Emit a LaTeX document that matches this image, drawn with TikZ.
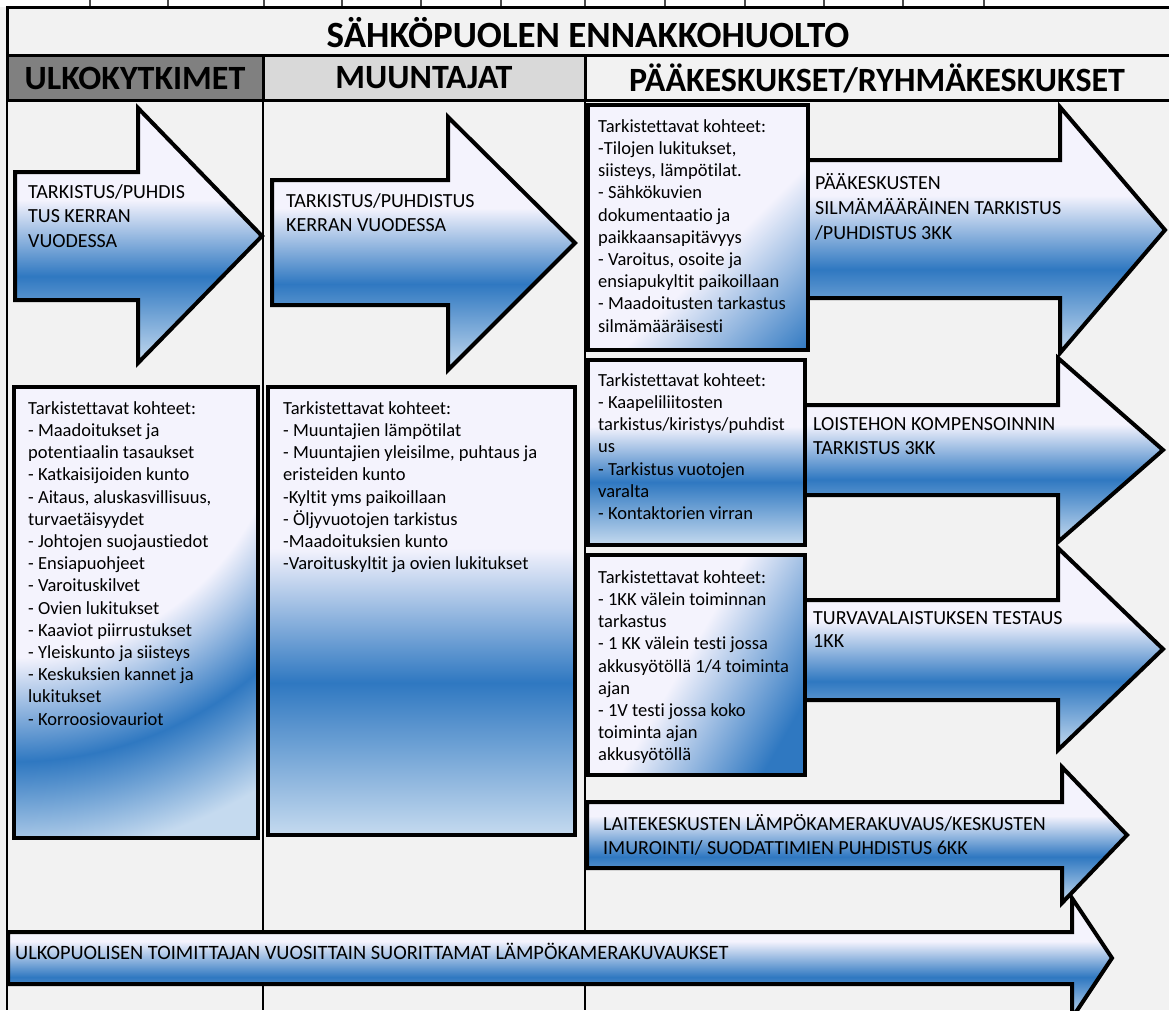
\documentclass[tikz,border=0pt]{standalone}
\usepackage{fontspec}
\setmainfont{Carlito}[Ligatures={NoCommon,NoContextual}]
\definecolor{bg}{HTML}{F2F2F2}
\definecolor{hdark}{HTML}{808080}
\definecolor{hlight}{HTML}{D9D9D9}
\definecolor{gT}{HTML}{F4F3FD}
\definecolor{gM}{HTML}{2F78C1}
\definecolor{gB}{HTML}{C5DAEF}
\pgfdeclareverticalshading{vgrad}{100bp}{color(0bp)=(gB); color(25bp)=(gB); color(42bp)=(gM); color(57bp)=(gT); color(75bp)=(gT); color(100bp)=(gT)}
\pgfdeclareverticalshading{diagA}{100bp}{color(0bp)=(gM); color(25bp)=(gM); color(45bp)=(gT); color(100bp)=(gT)}
\pgfdeclareverticalshading{diagB}{100bp}{color(0bp)=(gM); color(32bp)=(gM); color(52bp)=(gT); color(100bp)=(gT)}
\pgfdeclareradialshading{cradial}{\pgfpoint{0bp}{0bp}}{color(0bp)=(gT); color(13bp)=(gT); color(18bp)=(gM); color(22.6bp)=(gB); color(25bp)=(gB); color(50bp)=(gB)}
\newcommand{\firstln}{\rule{0pt}{14pt}}
\tikzset{
  arrowsty/.style={draw=black, line width=4pt, line join=miter, shading=vgrad},
  boxline/.style={draw=black, line width=4pt},
  txt/.style={anchor=north west, inner sep=0pt, align=left, font=\fontsize{18.5}{22.2}\selectfont},
  atxt/.style={anchor=north west, inner sep=0pt, align=left, font=\fontsize{20}{24.5}\selectfont},
  head/.style={font=\bfseries\fontsize{34}{38}\selectfont, inner sep=0pt},
  thin/.style={line width=1.5pt},
  thick/.style={line width=3pt},
}
\begin{document}
\begin{tikzpicture}[x=1pt,y=-1pt]
\useasboundingbox (0,0) rectangle (1169,1010);
\clip (0,0) rectangle (1169,1010);
\fill[white] (0,0) rectangle (1169,7);
\fill[bg] (0,7) rectangle (1169,1010);
\foreach \x in {90,168,264,342,421,501,585,665,745,824,903,984}
  \draw[line width=1.2pt, black!70] (\x,0) -- (\x,7);
% header cells
\fill[hdark] (7,55) rectangle (263,100);
\fill[hlight] (263,55) rectangle (585,100);
% grid lines
\draw[thin] (7,55) -- (7,1010);
\draw[thin] (263,100) -- (263,1010);
\draw[thin] (585,100) -- (585,1010);
\draw[thick] (1169,7) -- (7,7) -- (7,100);
\draw[thick] (7,55) -- (1169,55);
\draw[thick] (7,100) -- (1169,100);
\draw[thick] (263,55) -- (263,100);
\draw[thick] (585,55) -- (585,100);
% headings
\node[head, font=\bfseries\fontsize{37}{42}\selectfont] (title) at (588,33) {SÄHKÖPUOLEN ENNAKKOHUOLTO};
\node[head] (h1) at (135,78) {ULKOKYTKIMET};
\node[head] (h2) at (424,78) {MUUNTAJAT};
\node[head] (h3) at (877,78) {PÄÄKESKUKSET/RYHMÄKESKUKSET};

% column 1 arrow
\shadedraw[arrowsty] (15,172) -- (138,172) -- (138,108) -- (262,236) -- (138,363) -- (138,300) -- (15,300) -- cycle;
\node[atxt] (a1) at (28,184) {\firstln TARKISTUS/PUHDIS\\TUS KERRAN\\VUODESSA};
% column 2 arrow
\shadedraw[arrowsty] (272,180) -- (448,180) -- (448,117) -- (575,243) -- (448,370) -- (448,305) -- (272,305) -- cycle;
\node[atxt] (a2) at (286,193) {\firstln TARKISTUS/PUHDISTUS\\KERRAN VUODESSA};

% column 3 arrows
\shadedraw[arrowsty] (800,160) -- (1060,160) -- (1060,107) -- (1165,230) -- (1060,353) -- (1060,298) -- (800,298) -- cycle;
\shadedraw[arrowsty] (800,405) -- (1058,405) -- (1058,358) -- (1163,450) -- (1058,542) -- (1058,495) -- (800,495) -- cycle;
\shadedraw[arrowsty] (800,600) -- (1058,600) -- (1058,548) -- (1163,649) -- (1058,750) -- (1058,700) -- (800,700) -- cycle;
\shadedraw[arrowsty] (587,802) -- (1062,802) -- (1062,767) -- (1127,835) -- (1062,903) -- (1062,868) -- (587,868) -- cycle;
\shadedraw[arrowsty] (8,932) -- (1072,932) -- (1072,898) -- (1112,958) -- (1072,1018) -- (1072,984) -- (8,984) -- cycle;

\node[atxt, font=\fontsize{20}{25}\selectfont] (a3) at (815,173) {\firstln PÄÄKESKUSTEN\\SILMÄMÄÄRÄINEN TARKISTUS\\/PUHDISTUS 3KK};
\node[atxt] (a4) at (813,416) {\firstln LOISTEHON KOMPENSOINNIN\\TARKISTUS 3KK};
\node[atxt, font=\fontsize{20}{23.5}\selectfont] (a5) at (813,610) {\firstln TURVAVALAISTUKSEN TESTAUS\\1KK};
\node[atxt] (a6) at (603,814) {\firstln LAITEKESKUSTEN LÄMPÖKAMERAKUVAUS/KESKUSTEN\\IMUROINTI/ SUODATTIMIEN PUHDISTUS 6KK};
\node[atxt, font=\fontsize{20.4}{24}\selectfont] (a7) at (15,943) {\firstln ULKOPUOLISEN TOIMITTAJAN VUOSITTAIN SUORITTAMAT LÄMPÖKAMERAKUVAUKSET};

% box B1 (diagonal)
\begin{scope}
  \clip (588,105) rectangle (808,350);
  \begin{scope}[transform canvas={rotate around={45:(698,227.5)}}]
    \shade[shading=diagA] (534,63) rectangle (862,392);
  \end{scope}
\end{scope}
\draw[boxline] (588,105) rectangle (808,350);
\node[txt] (b1) at (598,118) {\firstln Tarkistettavat kohteet:\\-Tilojen lukitukset,\\siisteys, lämpötilat.\\- Sähkökuvien\\dokumentaatio ja\\paikkaansapitävyys\\- Varoitus, osoite ja\\ensiapukyltit paikoillaan\\- Maadoitusten tarkastus\\silmämääräisesti};

% box B2 (vertical)
\shadedraw[boxline, shading=vgrad] (588,360) rectangle (805,545);
\node[txt] (b2) at (598,372) {\firstln Tarkistettavat kohteet:\\- Kaapeliliitosten\\tarkistus/kiristys/puhdist\\us\\- Tarkistus vuotojen\\varalta\\- Kontaktorien virran};

% box B3 (diagonal)
\begin{scope}
  \clip (588,555) rectangle (805,775);
  \begin{scope}[transform canvas={rotate around={60:(696.5,665)}}]
    \shade[shading=diagB] (542,510) rectangle (851,820);
  \end{scope}
\end{scope}
\draw[boxline] (588,555) rectangle (805,775);
\node[txt] (b3) at (598,569) {\firstln Tarkistettavat kohteet:\\- 1KK välein toiminnan\\tarkastus\\- 1 KK välein testi jossa\\akkusyötöllä 1/4 toiminta\\ajan\\- 1V testi jossa koko\\toiminta ajan\\akkusyötöllä};

% box C1 (radial)
\begin{scope}
  \clip (14,387) rectangle (258,838);
  \shade[shading=cradial] (14,387) circle (520);
\end{scope}
\draw[boxline] (14,387) rectangle (258,838);
\node[txt] (c1) at (28,400) {\firstln Tarkistettavat kohteet:\\- Maadoitukset ja\\potentiaalin tasaukset\\- Katkaisijoiden kunto\\- Aitaus, aluskasvillisuus,\\turvaetäisyydet\\- Johtojen suojaustiedot\\- Ensiapuohjeet\\- Varoituskilvet\\- Ovien lukitukset\\- Kaaviot piirrustukset\\- Yleiskunto ja siisteys\\- Keskuksien kannet ja\\lukitukset\\- Korroosiovauriot};

% box C2 (vertical)
\shadedraw[boxline, shading=vgrad] (268,387) rectangle (575,835);
\node[txt] (c2) at (283,400) {\firstln Tarkistettavat kohteet:\\- Muuntajien lämpötilat\\- Muuntajien yleisilme, puhtaus ja\\eristeiden kunto\\-Kyltit yms paikoillaan\\- Öljyvuotojen tarkistus\\-Maadoituksien kunto\\-Varoituskyltit ja ovien lukitukset};
\end{tikzpicture}
\end{document}
